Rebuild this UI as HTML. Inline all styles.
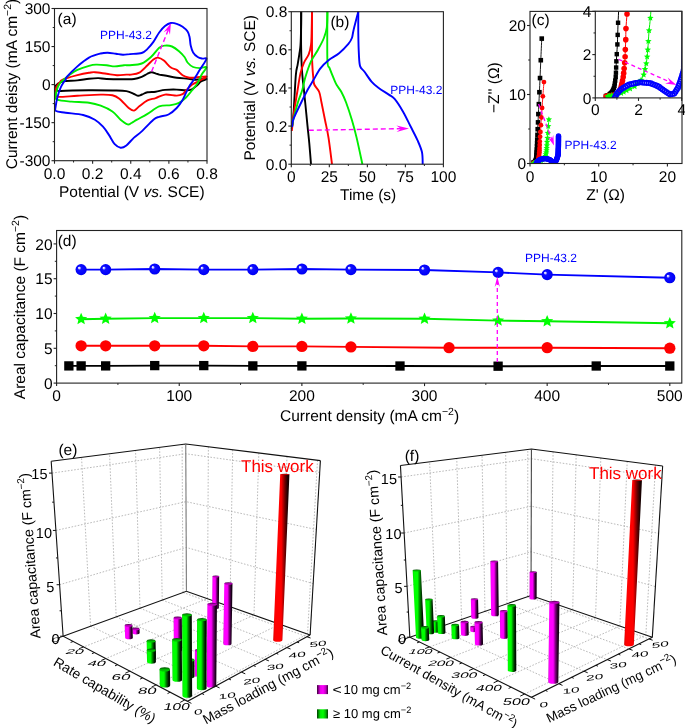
<!DOCTYPE html>
<html><head><meta charset="utf-8"><style>
html,body{margin:0;padding:0;background:#fff;}
svg{display:block;will-change:transform;filter:blur(0.3px);text-rendering:geometricPrecision;font-family:"Liberation Sans",sans-serif;}
</style></head><body>
<svg width="685" height="728" viewBox="0 0 685 728">
<rect width="685" height="728" fill="#fff"/>
<g fill="none" stroke-width="1.9" stroke-linejoin="round">
<path d="M55.3,86.3 C55.75,85.83 57.05,84.18 58,83.5 C58.95,82.82 59.72,82.62 61,82.2 C62.28,81.78 62.97,81.3 65.7,81 C68.43,80.7 73.52,80.78 77.4,80.4 C81.28,80.02 85.5,79.08 89,78.7 C92.5,78.32 95.47,78.05 98.4,78.1 C101.33,78.15 102.33,78.82 106.6,79 C110.87,79.18 119.43,79.2 124,79.2 C128.57,79.2 131.05,79.38 134,79 C136.95,78.62 139.53,77.73 141.7,76.9 C143.87,76.07 145.35,74.78 147,74 C148.65,73.22 150.1,72.27 151.6,72.2 C153.1,72.13 154.73,73.2 156,73.6 C157.27,74 157.7,74.28 159.2,74.6 C160.7,74.92 162.08,74.97 165,75.5 C167.92,76.03 172.8,77.27 176.7,77.8 C180.6,78.33 185.28,78.37 188.4,78.7 C191.52,79.03 192.38,79.75 195.4,79.8 C198.42,79.85 205.57,78.72 206.5,79 C207.43,79.28 202.47,80.55 201,81.5 C199.53,82.45 199.22,83.4 197.7,84.7 C196.18,86 193.85,88.37 191.9,89.3 C189.95,90.23 188.53,90.25 186,90.3 C183.47,90.35 180.2,89.67 176.7,89.6 C173.2,89.53 168.5,89.55 165,89.9 C161.5,90.25 158.62,91.3 155.7,91.7 C152.78,92.1 149.78,91.83 147.5,92.3 C145.22,92.77 143.55,93.92 142,94.5 C140.45,95.08 139.53,95.88 138.2,95.8 C136.87,95.72 135.97,94.78 134,94 C132.03,93.22 130,91.68 126.4,91.1 C122.8,90.52 118.63,90.63 112.4,90.5 C106.17,90.37 96.78,90.27 89,90.3 C81.22,90.33 70.75,90.57 65.7,90.7 C60.65,90.83 60.38,91.3 58.7,91.1 C57.02,90.9 56.17,90.3 55.6,89.5 C55.03,88.7 55.35,86.83 55.3,86.3" stroke="#000"/>
<path d="M59.8,82.3 C60.08,81.98 60.52,81.03 61.5,80.4 C62.48,79.77 63.05,79.37 65.7,78.5 C68.35,77.63 73.52,76.15 77.4,75.2 C81.28,74.25 86.08,73.3 89,72.8 C91.92,72.3 91.97,72.03 94.9,72.2 C97.83,72.37 102.92,73.3 106.6,73.8 C110.28,74.3 113.7,75.07 117,75.2 C120.3,75.33 124.07,74.7 126.4,74.6 C128.73,74.5 128.85,74.93 131,74.6 C133.15,74.27 136.55,74.17 139.3,72.6 C142.05,71.03 145.15,67.4 147.5,65.2 C149.85,63 151.65,60.67 153.4,59.4 C155.15,58.13 156.25,57.4 158,57.6 C159.75,57.8 161.75,58.93 163.9,60.6 C166.05,62.27 168.77,66.05 170.9,67.6 C173.03,69.15 174.75,68.63 176.7,69.9 C178.65,71.17 180.65,73.93 182.6,75.2 C184.55,76.47 186.27,77.12 188.4,77.5 C190.53,77.88 192.38,77.67 195.4,77.5 C198.42,77.33 205.73,76 206.5,76.5 C207.27,77 202.43,79.13 200,80.5 C197.57,81.87 194.23,83.03 191.9,84.7 C189.57,86.37 187.55,88.92 186,90.5 C184.45,92.08 184.15,93.35 182.6,94.2 C181.05,95.05 179.63,95.53 176.7,95.6 C173.77,95.67 168.5,94.18 165,94.6 C161.5,95.02 158.62,97.13 155.7,98.1 C152.78,99.07 150.23,99.03 147.5,100.4 C144.77,101.77 141.53,104.6 139.3,106.3 C137.07,108 135.87,110.32 134.1,110.6 C132.33,110.88 131.15,109.98 128.7,108 C126.25,106.02 122.12,100.83 119.4,98.7 C116.68,96.57 115.52,95.88 112.4,95.2 C109.28,94.52 106.53,94.5 100.7,94.6 C94.87,94.7 84.4,95.42 77.4,95.8 C70.4,96.18 62.3,97 58.7,96.9 C55.1,96.8 56.28,96.52 55.8,95.2 C55.32,93.88 55.52,90.7 55.8,89 C56.08,87.3 56.83,86.12 57.5,85 C58.17,83.88 59.42,82.75 59.8,82.3" stroke="#ff0000"/>
<path d="M63.3,80 C63.7,79.67 64.58,78.92 65.7,78 C66.82,77.08 68.05,75.85 70,74.5 C71.95,73.15 74.23,71.35 77.4,69.9 C80.57,68.45 85.9,66.68 89,65.8 C92.1,64.92 93.07,64.7 96,64.6 C98.93,64.5 103.48,64.9 106.6,65.2 C109.72,65.5 111.8,66.4 114.7,66.4 C117.6,66.4 121.45,65.4 124,65.2 C126.55,65 127.05,65.48 130,65.2 C132.95,64.92 138.2,64.87 141.7,63.5 C145.2,62.13 148.08,59.63 151,57 C153.92,54.37 156.87,49.6 159.2,47.7 C161.53,45.8 162.87,45.8 165,45.6 C167.13,45.4 169.67,45.57 172,46.5 C174.33,47.43 176.92,49.45 179,51.2 C181.08,52.95 183.08,55.12 184.5,57 C185.92,58.88 186.07,60.83 187.5,62.5 C188.93,64.17 191.02,66.07 193.1,67 C195.18,67.93 197.77,68.07 200,68.1 C202.23,68.13 206.17,66.22 206.5,67.2 C206.83,68.18 203.47,71.38 202,74 C200.53,76.62 199.38,80.15 197.7,82.9 C196.02,85.65 193.85,88.07 191.9,90.5 C189.95,92.93 188.15,95.45 186,97.5 C183.85,99.55 181.52,101.53 179,102.8 C176.48,104.07 174.2,104.52 170.9,105.1 C167.6,105.68 163.1,104.83 159.2,106.3 C155.3,107.77 151.2,111.67 147.5,113.9 C143.8,116.13 139.67,118.18 137,119.7 C134.33,121.22 133.07,122.22 131.5,123 C129.93,123.78 129.42,124.95 127.6,124.4 C125.78,123.85 123.13,121.85 120.6,119.7 C118.07,117.55 115.72,113.83 112.4,111.5 C109.08,109.17 104.6,107.15 100.7,105.7 C96.8,104.25 93.87,103.48 89,102.8 C84.13,102.12 76.75,102.08 71.5,101.6 C66.25,101.12 60.13,100.77 57.5,99.9 C54.87,99.03 55.7,98.38 55.7,96.4 C55.7,94.42 56.7,90.32 57.5,88 C58.3,85.68 59.53,83.83 60.5,82.5 C61.47,81.17 62.83,80.42 63.3,80" stroke="#00ee00"/>
<path d="M65.7,80 C65.88,79.48 64.85,79.17 66.8,76.9 C68.75,74.63 73.7,69.62 77.4,66.4 C81.1,63.18 85.12,59.75 89,57.6 C92.88,55.45 97.58,54.32 100.7,53.5 C103.82,52.68 105.17,52.65 107.7,52.7 C110.23,52.75 113.37,53.47 115.9,53.8 C118.43,54.13 120.55,54.65 122.9,54.7 C125.25,54.75 126.87,54.38 130,54.1 C133.13,53.82 138.78,53.87 141.7,53 C144.62,52.13 145.55,50.75 147.5,48.9 C149.45,47.05 151.45,44.63 153.4,41.9 C155.35,39.17 157.27,35.13 159.2,32.5 C161.13,29.87 163.05,27.68 165,26.1 C166.95,24.52 168.95,23.38 170.9,23 C172.85,22.62 174.75,23.18 176.7,23.8 C178.65,24.42 180.78,25.42 182.6,26.7 C184.42,27.98 186.43,29.75 187.6,31.5 C188.77,33.25 189.08,34.87 189.6,37.2 C190.12,39.53 190.12,42.97 190.7,45.5 C191.28,48.03 191.93,50.48 193.1,52.4 C194.27,54.32 196.15,55.97 197.7,57 C199.25,58.03 200.93,58.28 202.4,58.6 C203.87,58.92 206.9,57.08 206.5,58.9 C206.1,60.72 202.15,65.98 200,69.5 C197.85,73.02 195.33,77.28 193.6,80 C191.87,82.72 190.87,83.67 189.6,85.8 C188.33,87.93 187.17,90.45 186,92.8 C184.83,95.15 184.15,97.37 182.6,99.9 C181.05,102.43 179.05,105.57 176.7,108 C174.35,110.43 171.42,113.03 168.5,114.5 C165.58,115.97 161.72,115.93 159.2,116.8 C156.68,117.67 156.32,117.27 153.4,119.7 C150.48,122.13 144.93,128.42 141.7,131.4 C138.47,134.38 136.55,135.27 134,137.6 C131.45,139.93 128.63,143.72 126.4,145.4 C124.17,147.08 122.55,147.9 120.6,147.7 C118.65,147.5 116.65,146.33 114.7,144.2 C112.75,142.07 110.85,137.82 108.9,134.9 C106.95,131.98 105.33,129.23 103,126.7 C100.67,124.17 98.2,121.65 94.9,119.7 C91.6,117.75 88.07,116.17 83.2,115 C78.33,113.83 70.23,113.37 65.7,112.7 C61.17,112.03 57.68,111.95 56,111 C54.32,110.05 55.35,109.33 55.6,107 C55.85,104.67 56.68,100.17 57.5,97 C58.32,93.83 59.5,90.42 60.5,88 C61.5,85.58 62.63,83.83 63.5,82.5 C64.37,81.17 65.33,80.42 65.7,80" stroke="#0000ff"/>
</g>
<line x1="151.6" y1="71.6" x2="168.46" y2="29.33" stroke="#ff00ff" stroke-width="1.4" stroke-dasharray="5,3"/>
<path d="M170.9,23.2 L169.98,34.68 L168.25,29.84 L163.67,32.16 Z" fill="#ff00ff"/>
<rect x="54.5" y="8.5" width="152.5" height="152.2" fill="none" stroke="#222" stroke-width="1.1"/>
<line x1="51.5" y1="8.5" x2="54.5" y2="8.5" stroke="#222" stroke-width="1.1" />
<text x="50.5" y="14.1" font-size="15.5" text-anchor="end" fill="#000" >300</text>
<line x1="51.5" y1="46.55" x2="54.5" y2="46.55" stroke="#222" stroke-width="1.1" />
<text x="50.5" y="52.15" font-size="15.5" text-anchor="end" fill="#000" >150</text>
<line x1="51.5" y1="84.6" x2="54.5" y2="84.6" stroke="#222" stroke-width="1.1" />
<text x="50.5" y="90.2" font-size="15.5" text-anchor="end" fill="#000" >0</text>
<line x1="51.5" y1="122.65" x2="54.5" y2="122.65" stroke="#222" stroke-width="1.1" />
<text x="50.5" y="128.25" font-size="15.5" text-anchor="end" fill="#000" >-150</text>
<line x1="51.5" y1="160.7" x2="54.5" y2="160.7" stroke="#222" stroke-width="1.1" />
<text x="50.5" y="166.3" font-size="15.5" text-anchor="end" fill="#000" >-300</text>
<line x1="52.7" y1="27.52" x2="54.5" y2="27.52" stroke="#222" stroke-width="1" />
<line x1="52.7" y1="65.57" x2="54.5" y2="65.57" stroke="#222" stroke-width="1" />
<line x1="52.7" y1="103.62" x2="54.5" y2="103.62" stroke="#222" stroke-width="1" />
<line x1="52.7" y1="141.68" x2="54.5" y2="141.68" stroke="#222" stroke-width="1" />
<line x1="54.5" y1="160.7" x2="54.5" y2="163.7" stroke="#222" stroke-width="1.1" />
<text x="54.5" y="179" font-size="15.5" text-anchor="middle" fill="#000" >0.0</text>
<line x1="92.62" y1="160.7" x2="92.62" y2="163.7" stroke="#222" stroke-width="1.1" />
<text x="92.62" y="179" font-size="15.5" text-anchor="middle" fill="#000" >0.2</text>
<line x1="130.75" y1="160.7" x2="130.75" y2="163.7" stroke="#222" stroke-width="1.1" />
<text x="130.75" y="179" font-size="15.5" text-anchor="middle" fill="#000" >0.4</text>
<line x1="168.88" y1="160.7" x2="168.88" y2="163.7" stroke="#222" stroke-width="1.1" />
<text x="168.88" y="179" font-size="15.5" text-anchor="middle" fill="#000" >0.6</text>
<line x1="207" y1="160.7" x2="207" y2="163.7" stroke="#222" stroke-width="1.1" />
<text x="207" y="179" font-size="15.5" text-anchor="middle" fill="#000" >0.8</text>
<line x1="73.56" y1="160.7" x2="73.56" y2="162.5" stroke="#222" stroke-width="1" />
<line x1="111.69" y1="160.7" x2="111.69" y2="162.5" stroke="#222" stroke-width="1" />
<line x1="149.81" y1="160.7" x2="149.81" y2="162.5" stroke="#222" stroke-width="1" />
<line x1="187.94" y1="160.7" x2="187.94" y2="162.5" stroke="#222" stroke-width="1" />
<text x="59" y="197.1" font-size="15.5" text-anchor="start" fill="#000" >Potential (V <tspan font-style="italic">vs.</tspan> SCE)</text>
<text transform="translate(16.6,84) rotate(-90)" font-size="15.5" text-anchor="middle">Current deisty (mA cm<tspan font-size="10.5" dy="-6">−2</tspan><tspan dy="6">)</tspan></text>
<text x="57.6" y="23.7" font-size="15.5" text-anchor="start" fill="#000" >(a)</text>
<text x="100" y="38.6" font-size="12.0" text-anchor="start" fill="#0000ff" >PPH-43.2</text>
<g fill="none" stroke-width="1.9" stroke-linejoin="round">
<path d="M291.8,129 C292.08,126.5 292.83,122.93 293.5,114 C294.17,105.07 295.12,83.58 295.8,75.4 C296.48,67.22 297.02,68.4 297.6,64.9 C298.18,61.4 298.82,57.72 299.3,54.4 C299.78,51.08 300.2,49.48 300.5,45 C300.8,40.52 300.98,33.05 301.1,27.5 C301.22,21.95 301.18,14.33 301.2,11.7" stroke="#000"/>
<path d="M301.2,11.7 C301.18,17.25 301.02,35.93 301.1,45 C301.18,54.07 301.42,60.27 301.7,66.1 C301.98,71.93 302.52,76.85 302.8,80 C303.08,83.15 303,81.25 303.4,85 C303.8,88.75 304.52,95.68 305.2,102.5 C305.88,109.32 306.82,119.08 307.5,125.9 C308.18,132.72 308.72,137.02 309.3,143.4 C309.88,149.78 310.72,160.73 311,164.2" stroke="#000"/>
<path d="M291.8,131 C292.17,127.83 293.03,118.83 294,112 C294.97,105.17 296.52,96.48 297.6,90 C298.68,83.52 299.43,77.67 300.5,73.1 C301.57,68.53 302.63,65.72 304,62.6 C305.37,59.48 307.53,57.33 308.7,54.4 C309.87,51.47 310.52,48.5 311,45 C311.48,41.5 311.43,38.95 311.6,33.4 C311.77,27.85 311.93,15.32 312,11.7" stroke="#ff0000"/>
<path d="M312,11.7 C312,17.25 311.97,36.52 312,45 C312.03,53.48 311.97,56.95 312.2,62.6 C312.43,68.25 313.02,75.17 313.4,78.9 C313.78,82.63 313.53,82.82 314.5,85 C315.47,87.18 318.03,89.08 319.2,92 C320.37,94.92 320.53,97.83 321.5,102.5 C322.47,107.17 323.83,114.15 325,120 C326.17,125.85 327.33,130.23 328.5,137.6 C329.67,144.97 331.42,159.77 332,164.2" stroke="#ff0000"/>
<path d="M292,127 C292.25,125.65 292.5,123.07 293.5,118.9 C294.5,114.73 296.53,106.82 298,102 C299.47,97.18 301.1,94.05 302.3,90 C303.5,85.95 303.75,82.47 305.2,77.7 C306.65,72.93 308.87,66.07 311,61.4 C313.13,56.73 315.85,53.6 318,49.7 C320.15,45.8 322.43,41.7 323.9,38 C325.37,34.3 326.22,31.88 326.8,27.5 C327.38,23.12 327.3,14.33 327.4,11.7" stroke="#00ee00"/>
<path d="M327.4,11.7 C327.4,19.78 327.02,50.75 327.4,60.2 C327.78,69.65 328.53,65.08 329.7,68.4 C330.87,71.72 333.23,77.33 334.4,80.1 C335.57,82.87 335.53,83.02 336.7,85 C337.87,86.98 339.83,89.08 341.4,92 C342.97,94.92 344.35,97.83 346.1,102.5 C347.85,107.17 350.15,114.15 351.9,120 C353.65,125.85 354.85,130.23 356.6,137.6 C358.35,144.97 361.43,159.77 362.4,164.2" stroke="#00ee00"/>
<path d="M292,127 C292.25,125.65 292.17,122.57 293.5,118.9 C294.83,115.23 297.67,109.82 300,105 C302.33,100.18 305.27,94.15 307.5,90 C309.73,85.85 311.25,83.7 313.4,80.1 C315.55,76.5 317.88,71.72 320.4,68.4 C322.92,65.08 325.38,62.73 328.5,60.2 C331.62,57.67 335.78,55.92 339.1,53.2 C342.42,50.48 346.27,46.43 348.4,43.9 C350.53,41.37 351.03,40.33 351.9,38 C352.77,35.67 352.53,34.28 353.6,29.9 C354.67,25.52 357.52,14.73 358.3,11.7" stroke="#0000ff"/>
<path d="M358.3,11.7 C358.3,15.32 358.2,26.28 358.3,33.4 C358.4,40.52 358.6,48.95 358.9,54.4 C359.2,59.85 359.2,63.25 360.1,66.1 C361,68.95 362.4,68.92 364.3,71.5 C366.2,74.08 369.1,78.83 371.5,81.6 C373.9,84.37 375.82,85.93 378.7,88.1 C381.58,90.27 386.15,92.8 388.8,94.6 C391.45,96.4 392.2,96.02 394.6,98.9 C397,101.78 400.55,107.33 403.2,111.9 C405.85,116.47 408.08,121.5 410.5,126.3 C412.92,131.1 415.78,136.37 417.7,140.7 C419.62,145.03 421.17,148.38 422,152.3 C422.83,156.22 422.58,162.22 422.7,164.2" stroke="#0000ff"/>
</g>
<line x1="308.8" y1="130.3" x2="401.5" y2="128.63" stroke="#ff00ff" stroke-width="1.4" stroke-dasharray="5,3"/>
<path d="M409,128.5 L396.56,131.92 L400.88,128.65 L396.44,125.53 Z" fill="#ff00ff"/>
<rect x="291.3" y="11.7" width="152.1" height="152.5" fill="none" stroke="#222" stroke-width="1.1"/>
<line x1="288.3" y1="164.2" x2="291.3" y2="164.2" stroke="#222" stroke-width="1.1" />
<text x="287.3" y="169.8" font-size="15.5" text-anchor="end" fill="#000" >0.0</text>
<line x1="288.3" y1="126.07" x2="291.3" y2="126.07" stroke="#222" stroke-width="1.1" />
<text x="287.3" y="131.67" font-size="15.5" text-anchor="end" fill="#000" >0.2</text>
<line x1="288.3" y1="87.95" x2="291.3" y2="87.95" stroke="#222" stroke-width="1.1" />
<text x="287.3" y="93.55" font-size="15.5" text-anchor="end" fill="#000" >0.4</text>
<line x1="288.3" y1="49.82" x2="291.3" y2="49.82" stroke="#222" stroke-width="1.1" />
<text x="287.3" y="55.42" font-size="15.5" text-anchor="end" fill="#000" >0.6</text>
<line x1="288.3" y1="11.7" x2="291.3" y2="11.7" stroke="#222" stroke-width="1.1" />
<text x="287.3" y="17.3" font-size="15.5" text-anchor="end" fill="#000" >0.8</text>
<line x1="289.5" y1="145.14" x2="291.3" y2="145.14" stroke="#222" stroke-width="1" />
<line x1="289.5" y1="107.01" x2="291.3" y2="107.01" stroke="#222" stroke-width="1" />
<line x1="289.5" y1="68.89" x2="291.3" y2="68.89" stroke="#222" stroke-width="1" />
<line x1="289.5" y1="30.76" x2="291.3" y2="30.76" stroke="#222" stroke-width="1" />
<line x1="291.3" y1="164.2" x2="291.3" y2="167.2" stroke="#222" stroke-width="1.1" />
<text x="291.3" y="182.3" font-size="15.5" text-anchor="middle" fill="#000" >0</text>
<line x1="329.32" y1="164.2" x2="329.32" y2="167.2" stroke="#222" stroke-width="1.1" />
<text x="329.32" y="182.3" font-size="15.5" text-anchor="middle" fill="#000" >25</text>
<line x1="367.35" y1="164.2" x2="367.35" y2="167.2" stroke="#222" stroke-width="1.1" />
<text x="367.35" y="182.3" font-size="15.5" text-anchor="middle" fill="#000" >50</text>
<line x1="405.38" y1="164.2" x2="405.38" y2="167.2" stroke="#222" stroke-width="1.1" />
<text x="405.38" y="182.3" font-size="15.5" text-anchor="middle" fill="#000" >75</text>
<line x1="443.4" y1="164.2" x2="443.4" y2="167.2" stroke="#222" stroke-width="1.1" />
<text x="443.4" y="182.3" font-size="15.5" text-anchor="middle" fill="#000" >100</text>
<line x1="310.31" y1="164.2" x2="310.31" y2="166" stroke="#222" stroke-width="1" />
<line x1="348.34" y1="164.2" x2="348.34" y2="166" stroke="#222" stroke-width="1" />
<line x1="386.36" y1="164.2" x2="386.36" y2="166" stroke="#222" stroke-width="1" />
<line x1="424.39" y1="164.2" x2="424.39" y2="166" stroke="#222" stroke-width="1" />
<text x="340" y="199.6" font-size="15.5" text-anchor="start" fill="#000" >Time (s)</text>
<text transform="translate(255.3,87.8) rotate(-90)" font-size="15.5" text-anchor="middle">Potential (V <tspan font-style="italic">vs.</tspan> SCE)</text>
<text x="330.4" y="27.3" font-size="15.5" text-anchor="start" fill="#000" >(b)</text>
<text x="390.3" y="93.9" font-size="12.0" text-anchor="start" fill="#0000ff" >PPH-43.2</text>
<defs><path id="star" d="M0,-5 L1.35,-1.86 L4.76,-1.55 L2.19,0.71 L2.94,4.05 L0,2.3 L-2.94,4.05 L-2.19,0.71 L-4.76,-1.55 L-1.35,-1.86 Z"/><clipPath id="clipc"><rect x="530" y="11.4" width="152" height="152.1"/></clipPath><clipPath id="clipi"><rect x="595.3" y="11.3" width="86.4" height="86.6"/></clipPath><radialGradient id="sph" cx="0.5" cy="0.5" r="0.55" fx="0.3" fy="0.32" fr="0"><stop offset="0" stop-color="#ffffff"/><stop offset="0.13" stop-color="#d0d0ff"/><stop offset="0.3" stop-color="#1010ff"/><stop offset="0.85" stop-color="#0000f8"/><stop offset="1" stop-color="#0000b8"/></radialGradient></defs>
<g clip-path="url(#clipc)">
<path d="M541.75,38.61 C541.59,42.21 541.07,53.63 540.79,60.21 C540.5,66.78 540.26,72.74 540.03,78.08 C539.8,83.41 539.61,87.88 539.41,92.22 C539.22,96.57 539.03,100.51 538.86,104.16 C538.69,107.81 538.52,111.06 538.38,114.1 C538.24,117.13 538.15,119.86 538.04,122.38 C537.92,124.89 537.79,127.13 537.69,129.21 C537.6,131.29 537.54,133.14 537.46,134.87 C537.39,136.59 537.3,138.13 537.24,139.56 C537.18,140.98 537.15,142.27 537.12,143.42 C537.08,144.57 537.07,145.43 537.02,146.46 C536.97,147.48 536.88,148.67 536.83,149.56 C536.77,150.46 536.73,151.13 536.7,151.84 C536.66,152.55 536.65,153.22 536.63,153.82 C536.6,154.43 536.59,154.96 536.57,155.47 C536.55,155.97 536.53,156.42 536.49,156.83 C536.46,157.25 536.38,157.62 536.34,157.97 C536.29,158.31 536.24,158.62 536.2,158.91 C536.16,159.19 536.14,159.45 536.1,159.69 C536.05,159.93 535.99,160.14 535.92,160.34 C535.85,160.53 535.75,160.71 535.67,160.87 C535.6,161.04 535.54,161.18 535.47,161.32 C535.4,161.46 535.33,161.58 535.24,161.69 C535.15,161.8 535.02,161.9 534.93,162 C534.84,162.09 534.75,162.18 534.68,162.25 C534.6,162.33 534.57,162.4 534.46,162.47 C534.36,162.53 534.16,162.59 534.03,162.64 C533.89,162.69 533.77,162.74 533.66,162.79 C533.55,162.83 533.41,162.89 533.36,162.91" fill="none" stroke="#000" stroke-width="0.9"/>
<g fill="#000"><rect x="539.45" y="36.31" width="4.6" height="4.6"/><rect x="538.49" y="57.91" width="4.6" height="4.6"/><rect x="537.73" y="75.78" width="4.6" height="4.6"/><rect x="537.11" y="89.92" width="4.6" height="4.6"/><rect x="536.56" y="101.86" width="4.6" height="4.6"/><rect x="536.08" y="111.8" width="4.6" height="4.6"/><rect x="535.74" y="120.08" width="4.6" height="4.6"/><rect x="535.39" y="126.91" width="4.6" height="4.6"/><rect x="535.16" y="132.56" width="4.6" height="4.6"/><rect x="534.94" y="137.26" width="4.6" height="4.6"/><rect x="534.82" y="141.12" width="4.6" height="4.6"/><rect x="534.72" y="144.16" width="4.6" height="4.6"/><rect x="534.53" y="147.26" width="4.6" height="4.6"/><rect x="534.4" y="149.54" width="4.6" height="4.6"/><rect x="534.33" y="151.52" width="4.6" height="4.6"/><rect x="534.27" y="153.17" width="4.6" height="4.6"/><rect x="534.19" y="154.53" width="4.6" height="4.6"/><rect x="534.04" y="155.67" width="4.6" height="4.6"/><rect x="533.9" y="156.61" width="4.6" height="4.6"/><rect x="533.8" y="157.39" width="4.6" height="4.6"/><rect x="533.62" y="158.04" width="4.6" height="4.6"/><rect x="533.37" y="158.57" width="4.6" height="4.6"/><rect x="533.17" y="159.02" width="4.6" height="4.6"/><rect x="532.94" y="159.39" width="4.6" height="4.6"/><rect x="532.63" y="159.7" width="4.6" height="4.6"/><rect x="532.38" y="159.95" width="4.6" height="4.6"/><rect x="532.16" y="160.17" width="4.6" height="4.6"/><rect x="531.73" y="160.34" width="4.6" height="4.6"/><rect x="531.36" y="160.49" width="4.6" height="4.6"/><rect x="531.06" y="160.61" width="4.6" height="4.6"/></g>
<path d="M543.95,82.08 C543.76,84.45 543.16,91.99 542.85,96.29 C542.54,100.59 542.33,104.36 542.09,107.89 C541.85,111.42 541.6,114.59 541.4,117.48 C541.21,120.36 541.08,122.8 540.92,125.2 C540.76,127.61 540.58,129.97 540.44,131.9 C540.3,133.82 540.2,135.18 540.09,136.76 C539.97,138.35 539.82,140.06 539.76,141.42 C539.69,142.78 539.72,143.82 539.69,144.94 C539.65,146.05 539.58,147.2 539.55,148.11 C539.51,149.02 539.51,149.69 539.48,150.39 C539.45,151.09 539.39,151.7 539.34,152.32 C539.29,152.94 539.22,153.56 539.17,154.11 C539.12,154.66 539.08,155.15 539.03,155.61 C538.98,156.07 538.94,156.49 538.88,156.87 C538.82,157.26 538.73,157.61 538.67,157.93 C538.6,158.26 538.54,158.55 538.49,158.83 C538.43,159.1 538.39,159.34 538.34,159.57 C538.29,159.8 538.25,160.01 538.19,160.2 C538.13,160.39 538.04,160.57 537.98,160.73 C537.92,160.89 537.86,161.04 537.81,161.17 C537.76,161.31 537.76,161.43 537.67,161.54 C537.58,161.66 537.41,161.76 537.29,161.86 C537.18,161.95 537.06,162.04 536.96,162.12 C536.86,162.2 536.81,162.27 536.68,162.34 C536.55,162.41 536.41,162.47 536.18,162.53 C535.95,162.58 535.58,162.63 535.31,162.68 C535.04,162.73 534.8,162.77 534.58,162.81 C534.35,162.85 534.15,162.89 533.96,162.92 C533.77,162.96 533.53,163 533.44,163.02" fill="none" stroke="#ff0000" stroke-width="0.9"/>
<g fill="#ff0000"><circle cx="543.95" cy="82.08" r="2.4"/><circle cx="542.85" cy="96.29" r="2.4"/><circle cx="542.09" cy="107.89" r="2.4"/><circle cx="541.4" cy="117.48" r="2.4"/><circle cx="540.92" cy="125.2" r="2.4"/><circle cx="540.44" cy="131.9" r="2.4"/><circle cx="540.09" cy="136.76" r="2.4"/><circle cx="539.76" cy="141.42" r="2.4"/><circle cx="539.69" cy="144.94" r="2.4"/><circle cx="539.55" cy="148.11" r="2.4"/><circle cx="539.48" cy="150.39" r="2.4"/><circle cx="539.34" cy="152.32" r="2.4"/><circle cx="539.17" cy="154.11" r="2.4"/><circle cx="539.03" cy="155.61" r="2.4"/><circle cx="538.88" cy="156.87" r="2.4"/><circle cx="538.67" cy="157.93" r="2.4"/><circle cx="538.49" cy="158.83" r="2.4"/><circle cx="538.34" cy="159.57" r="2.4"/><circle cx="538.19" cy="160.2" r="2.4"/><circle cx="537.98" cy="160.73" r="2.4"/><circle cx="537.81" cy="161.17" r="2.4"/><circle cx="537.67" cy="161.54" r="2.4"/><circle cx="537.29" cy="161.86" r="2.4"/><circle cx="536.96" cy="162.12" r="2.4"/><circle cx="536.68" cy="162.34" r="2.4"/><circle cx="536.18" cy="162.53" r="2.4"/><circle cx="535.31" cy="162.68" r="2.4"/><circle cx="534.58" cy="162.81" r="2.4"/><circle cx="533.96" cy="162.92" r="2.4"/><circle cx="533.44" cy="163.02" r="2.4"/></g>
<path d="M548.88,119.48 C548.78,120.61 548.44,124 548.27,126.24 C548.1,128.48 547.99,130.97 547.86,132.93 C547.74,134.9 547.64,136.52 547.52,138.04 C547.39,139.56 547.21,140.81 547.11,142.04 C547,143.27 546.95,144.4 546.88,145.42 C546.81,146.45 546.76,147.35 546.69,148.18 C546.63,149.01 546.57,149.67 546.49,150.39 C546.41,151.11 546.33,151.86 546.21,152.53 C546.1,153.2 545.94,153.79 545.8,154.39 C545.66,154.99 545.59,155.55 545.39,156.12 C545.18,156.68 544.89,157.31 544.56,157.77 C544.24,158.24 543.77,158.57 543.42,158.92 C543.08,159.26 542.9,159.56 542.51,159.83 C542.12,160.11 541.51,160.35 541.08,160.57 C540.65,160.79 540.28,160.98 539.93,161.15 C539.59,161.33 539.3,161.48 539.02,161.62 C538.73,161.76 538.58,161.89 538.24,162 C537.91,162.11 537.38,162.21 537.01,162.3 C536.64,162.39 536.32,162.47 536.02,162.54 C535.72,162.61 535.47,162.67 535.23,162.73 C534.99,162.79 534.79,162.84 534.6,162.89 C534.41,162.93 534.2,162.97 534.09,163.01 C533.98,163.04 533.96,163.09 533.94,163.11" fill="none" stroke="#00ee00" stroke-width="0.9"/>
<g fill="#00ff00"><use href="#star" transform="translate(548.88,119.48) scale(0.66)"/><use href="#star" transform="translate(548.27,126.24) scale(0.66)"/><use href="#star" transform="translate(547.86,132.93) scale(0.66)"/><use href="#star" transform="translate(547.52,138.04) scale(0.66)"/><use href="#star" transform="translate(547.11,142.04) scale(0.66)"/><use href="#star" transform="translate(546.88,145.42) scale(0.66)"/><use href="#star" transform="translate(546.69,148.18) scale(0.66)"/><use href="#star" transform="translate(546.49,150.39) scale(0.66)"/><use href="#star" transform="translate(546.21,152.53) scale(0.66)"/><use href="#star" transform="translate(545.8,154.39) scale(0.66)"/><use href="#star" transform="translate(545.39,156.12) scale(0.66)"/><use href="#star" transform="translate(544.56,157.77) scale(0.66)"/><use href="#star" transform="translate(543.42,158.92) scale(0.66)"/><use href="#star" transform="translate(542.51,159.83) scale(0.66)"/><use href="#star" transform="translate(541.08,160.57) scale(0.66)"/><use href="#star" transform="translate(539.93,161.15) scale(0.66)"/><use href="#star" transform="translate(539.02,161.62) scale(0.66)"/><use href="#star" transform="translate(538.24,162) scale(0.66)"/><use href="#star" transform="translate(537.01,162.3) scale(0.66)"/><use href="#star" transform="translate(536.02,162.54) scale(0.66)"/><use href="#star" transform="translate(535.23,162.73) scale(0.66)"/><use href="#star" transform="translate(534.6,162.89) scale(0.66)"/><use href="#star" transform="translate(534.09,163.01) scale(0.66)"/><use href="#star" transform="translate(533.94,163.11) scale(0.66)"/></g>
<g fill="none" stroke="#0000ff" stroke-width="1.4"><circle cx="536.18" cy="163.43" r="2"/><circle cx="536.51" cy="162.81" r="2"/><circle cx="536.84" cy="162.18" r="2"/><circle cx="537.32" cy="161.67" r="2"/><circle cx="537.82" cy="161.17" r="2"/><circle cx="538.32" cy="160.67" r="2"/><circle cx="538.93" cy="160.31" r="2"/><circle cx="539.53" cy="159.96" r="2"/><circle cx="540.14" cy="159.6" r="2"/><circle cx="540.75" cy="159.24" r="2"/><circle cx="541.44" cy="159.09" r="2"/><circle cx="542.13" cy="158.95" r="2"/><circle cx="542.82" cy="158.81" r="2"/><circle cx="543.51" cy="158.66" r="2"/><circle cx="544.2" cy="158.54" r="2"/><circle cx="544.9" cy="158.59" r="2"/><circle cx="545.6" cy="158.65" r="2"/><circle cx="546.3" cy="158.71" r="2"/><circle cx="547.01" cy="158.77" r="2"/><circle cx="547.69" cy="158.88" r="2"/><circle cx="548.35" cy="159.15" r="2"/><circle cx="549" cy="159.41" r="2"/><circle cx="549.65" cy="159.68" r="2"/><circle cx="550.27" cy="160" r="2"/><circle cx="550.84" cy="160.42" r="2"/><circle cx="551.41" cy="160.84" r="2"/><circle cx="551.98" cy="161.25" r="2"/><circle cx="552.57" cy="161.64" r="2"/><circle cx="553.16" cy="162.02" r="2"/><circle cx="553.76" cy="162.39" r="2"/><circle cx="554.46" cy="162.29" r="2"/><circle cx="555.12" cy="162.12" r="2"/><circle cx="555.5" cy="161.53" r="2"/><circle cx="555.88" cy="160.93" r="2"/><circle cx="556.26" cy="160.34" r="2"/><circle cx="556.52" cy="159.68" r="2"/><circle cx="556.75" cy="159.02" r="2"/><circle cx="556.99" cy="158.35" r="2"/><circle cx="557.23" cy="157.68" r="2"/><circle cx="557.44" cy="157.01" r="2"/><circle cx="557.64" cy="156.33" r="2"/><circle cx="557.84" cy="155.65" r="2"/><circle cx="558.04" cy="154.98" r="2"/><circle cx="558.18" cy="154.29" r="2"/><circle cx="558.2" cy="153.58" r="2"/><circle cx="558.22" cy="152.87" r="2"/><circle cx="558.25" cy="152.17" r="2"/><circle cx="558.27" cy="151.46" r="2"/><circle cx="558.29" cy="150.75" r="2"/><circle cx="558.32" cy="150.04" r="2"/><circle cx="558.34" cy="149.34" r="2"/><circle cx="558.36" cy="148.63" r="2"/><circle cx="558.39" cy="147.92" r="2"/><circle cx="558.41" cy="147.22" r="2"/><circle cx="558.43" cy="146.51" r="2"/><circle cx="558.44" cy="145.8" r="2"/><circle cx="558.45" cy="145.1" r="2"/><circle cx="558.45" cy="144.39" r="2"/><circle cx="558.46" cy="143.68" r="2"/><circle cx="558.46" cy="142.97" r="2"/><circle cx="558.47" cy="142.27" r="2"/><circle cx="558.47" cy="141.56" r="2"/><circle cx="558.48" cy="140.85" r="2"/><circle cx="558.48" cy="140.14" r="2"/><circle cx="558.49" cy="139.44" r="2"/><circle cx="558.49" cy="138.73" r="2"/><circle cx="558.5" cy="138.02" r="2"/><circle cx="558.5" cy="137.31" r="2"/><circle cx="558.51" cy="136.61" r="2"/><circle cx="558.51" cy="135.9" r="2"/></g>
</g>
<line x1="538.6" y1="104.1" x2="551.91" y2="139.88" stroke="#ff00ff" stroke-width="1.3" stroke-dasharray="4,3"/>
<path d="M554,145.5 L547.7,137.17 L551.73,139.41 L553.33,135.08 Z" fill="#ff00ff"/>
<rect x="530" y="11.4" width="152" height="152.1" fill="none" stroke="#222" stroke-width="1.1"/>
<rect x="595.3" y="11.3" width="86.4" height="86.6" fill="#fff" stroke="none"/>
<g clip-path="url(#clipi)">
<path d="M632.24,-293.97 C631.73,-282.67 630.11,-246.84 629.21,-226.2 C628.31,-205.56 627.56,-186.87 626.84,-170.13 C626.12,-153.38 625.5,-139.38 624.89,-125.74 C624.28,-112.11 623.7,-99.73 623.16,-88.29 C622.62,-76.85 622.08,-66.64 621.65,-57.11 C621.22,-47.59 620.93,-39.04 620.57,-31.13 C620.21,-23.23 619.79,-16.23 619.49,-9.7 C619.19,-3.17 619,2.64 618.76,8.05 C618.52,13.46 618.25,18.3 618.07,22.77 C617.89,27.25 617.79,31.29 617.68,34.9 C617.56,38.51 617.53,41.21 617.38,44.42 C617.22,47.64 616.94,51.35 616.77,54.17 C616.6,56.98 616.47,59.08 616.36,61.31 C616.25,63.54 616.2,65.63 616.14,67.53 C616.07,69.43 616.02,71.12 615.95,72.69 C615.88,74.27 615.84,75.67 615.72,76.98 C615.6,78.29 615.37,79.45 615.22,80.54 C615.07,81.62 614.93,82.59 614.81,83.49 C614.68,84.39 614.62,85.19 614.47,85.94 C614.32,86.69 614.12,87.35 613.9,87.97 C613.68,88.59 613.37,89.14 613.14,89.66 C612.9,90.17 612.73,90.63 612.5,91.06 C612.27,91.49 612.05,91.87 611.76,92.22 C611.48,92.58 611.09,92.89 610.8,93.19 C610.51,93.48 610.25,93.74 610,93.99 C609.76,94.23 609.68,94.45 609.34,94.65 C609,94.86 608.38,95.04 607.96,95.21 C607.54,95.37 607.17,95.52 606.82,95.66 C606.47,95.8 606.03,95.98 605.87,96.04" fill="none" stroke="#000" stroke-width="1.0"/>
<g fill="#000"><rect x="630.04" y="-296.17" width="4.4" height="4.4"/><rect x="627.01" y="-228.4" width="4.4" height="4.4"/><rect x="624.64" y="-172.33" width="4.4" height="4.4"/><rect x="622.69" y="-127.94" width="4.4" height="4.4"/><rect x="620.96" y="-90.49" width="4.4" height="4.4"/><rect x="619.45" y="-59.31" width="4.4" height="4.4"/><rect x="618.37" y="-33.33" width="4.4" height="4.4"/><rect x="617.29" y="-11.9" width="4.4" height="4.4"/><rect x="616.56" y="5.85" width="4.4" height="4.4"/><rect x="615.87" y="20.57" width="4.4" height="4.4"/><rect x="615.48" y="32.7" width="4.4" height="4.4"/><rect x="615.18" y="42.22" width="4.4" height="4.4"/><rect x="614.57" y="51.97" width="4.4" height="4.4"/><rect x="614.16" y="59.11" width="4.4" height="4.4"/><rect x="613.94" y="65.33" width="4.4" height="4.4"/><rect x="613.75" y="70.49" width="4.4" height="4.4"/><rect x="613.52" y="74.78" width="4.4" height="4.4"/><rect x="613.02" y="78.34" width="4.4" height="4.4"/><rect x="612.61" y="81.29" width="4.4" height="4.4"/><rect x="612.27" y="83.74" width="4.4" height="4.4"/><rect x="611.7" y="85.77" width="4.4" height="4.4"/><rect x="610.94" y="87.46" width="4.4" height="4.4"/><rect x="610.3" y="88.86" width="4.4" height="4.4"/><rect x="609.56" y="90.02" width="4.4" height="4.4"/><rect x="608.6" y="90.99" width="4.4" height="4.4"/><rect x="607.8" y="91.79" width="4.4" height="4.4"/><rect x="607.14" y="92.45" width="4.4" height="4.4"/><rect x="605.76" y="93.01" width="4.4" height="4.4"/><rect x="604.62" y="93.46" width="4.4" height="4.4"/><rect x="603.67" y="93.84" width="4.4" height="4.4"/></g>
<path d="M639.15,-157.57 C638.57,-150.14 636.66,-126.47 635.69,-112.97 C634.72,-99.48 634.07,-87.68 633.32,-76.6 C632.56,-65.52 631.77,-55.56 631.16,-46.51 C630.54,-37.45 630.15,-29.8 629.64,-22.26 C629.14,-14.72 628.57,-7.3 628.13,-1.26 C627.69,4.79 627.37,9.03 627.01,14.01 C626.65,18.99 626.18,24.34 625.97,28.62 C625.76,32.9 625.86,36.16 625.76,39.66 C625.65,43.16 625.43,46.77 625.32,49.62 C625.22,52.47 625.22,54.56 625.11,56.77 C625,58.97 624.84,60.88 624.68,62.83 C624.51,64.77 624.3,66.72 624.13,68.44 C623.97,70.16 623.83,71.71 623.68,73.15 C623.52,74.6 623.4,75.9 623.21,77.11 C623.02,78.33 622.75,79.42 622.54,80.44 C622.34,81.46 622.16,82.38 621.99,83.23 C621.82,84.09 621.68,84.86 621.52,85.58 C621.36,86.3 621.22,86.95 621.04,87.55 C620.85,88.15 620.59,88.7 620.4,89.21 C620.2,89.71 620.03,90.17 619.86,90.6 C619.7,91.02 619.68,91.41 619.41,91.77 C619.14,92.12 618.6,92.45 618.23,92.75 C617.86,93.05 617.51,93.32 617.19,93.57 C616.87,93.82 616.72,94.05 616.31,94.26 C615.9,94.48 615.45,94.67 614.73,94.85 C614.01,95.02 612.83,95.18 611.99,95.33 C611.15,95.48 610.4,95.62 609.69,95.75 C608.98,95.87 608.35,95.98 607.75,96.09 C607.16,96.2 606.4,96.33 606.13,96.38" fill="none" stroke="#ff0000" stroke-width="1.0"/>
<g fill="#ff0000"><circle cx="639.15" cy="-157.57" r="2.8"/><circle cx="635.69" cy="-112.97" r="2.8"/><circle cx="633.32" cy="-76.6" r="2.8"/><circle cx="631.16" cy="-46.51" r="2.8"/><circle cx="629.64" cy="-22.26" r="2.8"/><circle cx="628.13" cy="-1.26" r="2.8"/><circle cx="627.01" cy="14.01" r="2.8"/><circle cx="625.97" cy="28.62" r="2.8"/><circle cx="625.76" cy="39.66" r="2.8"/><circle cx="625.32" cy="49.62" r="2.8"/><circle cx="625.11" cy="56.77" r="2.8"/><circle cx="624.68" cy="62.83" r="2.8"/><circle cx="624.13" cy="68.44" r="2.8"/><circle cx="623.68" cy="73.15" r="2.8"/><circle cx="623.21" cy="77.11" r="2.8"/><circle cx="622.54" cy="80.44" r="2.8"/><circle cx="621.99" cy="83.23" r="2.8"/><circle cx="621.52" cy="85.58" r="2.8"/><circle cx="621.04" cy="87.55" r="2.8"/><circle cx="620.4" cy="89.21" r="2.8"/><circle cx="619.86" cy="90.6" r="2.8"/><circle cx="619.41" cy="91.77" r="2.8"/><circle cx="618.23" cy="92.75" r="2.8"/><circle cx="617.19" cy="93.57" r="2.8"/><circle cx="616.31" cy="94.26" r="2.8"/><circle cx="614.73" cy="94.85" r="2.8"/><circle cx="611.99" cy="95.33" r="2.8"/><circle cx="609.69" cy="95.75" r="2.8"/><circle cx="607.75" cy="96.09" r="2.8"/><circle cx="606.13" cy="96.38" r="2.8"/></g>
<path d="M654.66,-40.23 C654.34,-36.69 653.29,-26.05 652.76,-19.01 C652.22,-11.97 651.86,-4.18 651.46,1.99 C651.06,8.16 650.78,13.25 650.38,18.01 C649.98,22.77 649.42,26.71 649.08,30.57 C648.75,34.43 648.59,37.97 648.37,41.18 C648.16,44.39 647.99,47.24 647.79,49.84 C647.58,52.43 647.39,54.49 647.14,56.77 C646.89,59.04 646.64,61.38 646.28,63.48 C645.92,65.57 645.41,67.45 644.98,69.32 C644.55,71.2 644.33,72.97 643.68,74.73 C643.04,76.5 642.12,78.47 641.09,79.93 C640.06,81.4 638.58,82.45 637.51,83.52 C636.43,84.6 635.86,85.54 634.64,86.4 C633.41,87.26 631.5,88.01 630.15,88.7 C628.8,89.39 627.62,89.99 626.54,90.54 C625.45,91.09 624.53,91.57 623.65,92.01 C622.76,92.45 622.27,92.84 621.22,93.19 C620.17,93.54 618.5,93.85 617.33,94.13 C616.17,94.41 615.16,94.66 614.23,94.89 C613.29,95.11 612.49,95.31 611.74,95.49 C610.99,95.67 610.35,95.83 609.75,95.97 C609.15,96.12 608.5,96.24 608.16,96.36 C607.82,96.47 607.76,96.61 607.68,96.67" fill="none" stroke="#00ee00" stroke-width="1.0"/>
<g fill="#00ff00"><use href="#star" transform="translate(654.66,-40.23) scale(0.68)"/><use href="#star" transform="translate(652.76,-19.01) scale(0.68)"/><use href="#star" transform="translate(651.46,1.99) scale(0.68)"/><use href="#star" transform="translate(650.38,18.01) scale(0.68)"/><use href="#star" transform="translate(649.08,30.57) scale(0.68)"/><use href="#star" transform="translate(648.37,41.18) scale(0.68)"/><use href="#star" transform="translate(647.79,49.84) scale(0.68)"/><use href="#star" transform="translate(647.14,56.77) scale(0.68)"/><use href="#star" transform="translate(646.28,63.48) scale(0.68)"/><use href="#star" transform="translate(644.98,69.32) scale(0.68)"/><use href="#star" transform="translate(643.68,74.73) scale(0.68)"/><use href="#star" transform="translate(641.09,79.93) scale(0.68)"/><use href="#star" transform="translate(637.51,83.52) scale(0.68)"/><use href="#star" transform="translate(634.64,86.4) scale(0.68)"/><use href="#star" transform="translate(630.15,88.7) scale(0.68)"/><use href="#star" transform="translate(626.54,90.54) scale(0.68)"/><use href="#star" transform="translate(623.65,92.01) scale(0.68)"/><use href="#star" transform="translate(621.22,93.19) scale(0.68)"/><use href="#star" transform="translate(617.33,94.13) scale(0.68)"/><use href="#star" transform="translate(614.23,94.89) scale(0.68)"/><use href="#star" transform="translate(611.74,95.49) scale(0.68)"/><use href="#star" transform="translate(609.75,95.97) scale(0.68)"/><use href="#star" transform="translate(608.16,96.36) scale(0.68)"/><use href="#star" transform="translate(607.68,96.67) scale(0.68)"/></g>
<g fill="none" stroke="#0000ff" stroke-width="1.5"><circle cx="614.74" cy="97.68" r="2.3"/><circle cx="615.77" cy="95.72" r="2.3"/><circle cx="616.8" cy="93.76" r="2.3"/><circle cx="618.32" cy="92.15" r="2.3"/><circle cx="619.88" cy="90.58" r="2.3"/><circle cx="621.45" cy="89.01" r="2.3"/><circle cx="623.37" cy="87.9" r="2.3"/><circle cx="625.28" cy="86.78" r="2.3"/><circle cx="627.19" cy="85.66" r="2.3"/><circle cx="629.1" cy="84.54" r="2.3"/><circle cx="631.26" cy="84.06" r="2.3"/><circle cx="633.43" cy="83.61" r="2.3"/><circle cx="635.6" cy="83.17" r="2.3"/><circle cx="637.77" cy="82.73" r="2.3"/><circle cx="639.94" cy="82.32" r="2.3"/><circle cx="642.15" cy="82.5" r="2.3"/><circle cx="644.35" cy="82.68" r="2.3"/><circle cx="646.56" cy="82.87" r="2.3"/><circle cx="648.77" cy="83.05" r="2.3"/><circle cx="650.93" cy="83.4" r="2.3"/><circle cx="652.98" cy="84.24" r="2.3"/><circle cx="655.04" cy="85.07" r="2.3"/><circle cx="657.09" cy="85.9" r="2.3"/><circle cx="659.04" cy="86.92" r="2.3"/><circle cx="660.83" cy="88.23" r="2.3"/><circle cx="662.61" cy="89.54" r="2.3"/><circle cx="664.4" cy="90.85" r="2.3"/><circle cx="666.25" cy="92.07" r="2.3"/><circle cx="668.13" cy="93.24" r="2.3"/><circle cx="670.01" cy="94.42" r="2.3"/><circle cx="672.19" cy="94.1" r="2.3"/><circle cx="674.27" cy="93.58" r="2.3"/><circle cx="675.47" cy="91.72" r="2.3"/><circle cx="676.67" cy="89.85" r="2.3"/><circle cx="677.86" cy="87.98" r="2.3"/><circle cx="678.67" cy="85.92" r="2.3"/><circle cx="679.41" cy="83.83" r="2.3"/><circle cx="680.16" cy="81.74" r="2.3"/><circle cx="680.9" cy="79.65" r="2.3"/><circle cx="681.59" cy="77.54" r="2.3"/><circle cx="682.21" cy="75.41" r="2.3"/><circle cx="682.83" cy="73.28" r="2.3"/><circle cx="683.45" cy="71.15" r="2.3"/><circle cx="683.89" cy="68.99" r="2.3"/><circle cx="683.96" cy="66.77" r="2.3"/><circle cx="684.03" cy="64.55" r="2.3"/><circle cx="684.11" cy="62.34" r="2.3"/><circle cx="684.18" cy="60.12" r="2.3"/><circle cx="684.25" cy="57.9" r="2.3"/><circle cx="684.33" cy="55.68" r="2.3"/><circle cx="684.4" cy="53.46" r="2.3"/><circle cx="684.48" cy="51.25" r="2.3"/><circle cx="684.55" cy="49.03" r="2.3"/><circle cx="684.62" cy="46.81" r="2.3"/><circle cx="684.7" cy="44.59" r="2.3"/><circle cx="684.73" cy="42.37" r="2.3"/><circle cx="684.75" cy="40.15" r="2.3"/><circle cx="684.76" cy="37.93" r="2.3"/><circle cx="684.78" cy="35.71" r="2.3"/><circle cx="684.79" cy="33.49" r="2.3"/><circle cx="684.81" cy="31.27" r="2.3"/><circle cx="684.82" cy="29.06" r="2.3"/><circle cx="684.84" cy="26.84" r="2.3"/><circle cx="684.85" cy="24.62" r="2.3"/><circle cx="684.87" cy="22.4" r="2.3"/><circle cx="684.88" cy="20.18" r="2.3"/><circle cx="684.9" cy="17.96" r="2.3"/><circle cx="684.91" cy="15.74" r="2.3"/><circle cx="684.93" cy="13.52" r="2.3"/><circle cx="684.94" cy="11.3" r="2.3"/></g>
</g>
<line x1="618.6" y1="59.3" x2="670.46" y2="82.23" stroke="#ff00ff" stroke-width="1.3" stroke-dasharray="4,3"/>
<path d="M676.5,84.9 L665.15,83.38 L669.96,82.01 L667.73,77.53 Z" fill="#ff00ff"/>
<rect x="595.3" y="11.3" width="86.4" height="86.6" fill="none" stroke="#222" stroke-width="1.1"/>
<line x1="527" y1="163.5" x2="530" y2="163.5" stroke="#222" stroke-width="1.1" />
<text x="526" y="169.1" font-size="15.5" text-anchor="end" fill="#000" >0</text>
<line x1="530" y1="163.5" x2="530" y2="166.5" stroke="#222" stroke-width="1.1" />
<text x="530" y="181.5" font-size="15.5" text-anchor="middle" fill="#000" >0</text>
<line x1="527" y1="94.5" x2="530" y2="94.5" stroke="#222" stroke-width="1.1" />
<text x="526" y="100.1" font-size="15.5" text-anchor="end" fill="#000" >10</text>
<line x1="598.7" y1="163.5" x2="598.7" y2="166.5" stroke="#222" stroke-width="1.1" />
<text x="598.7" y="181.5" font-size="15.5" text-anchor="middle" fill="#000" >10</text>
<line x1="527" y1="25.5" x2="530" y2="25.5" stroke="#222" stroke-width="1.1" />
<text x="526" y="31.1" font-size="15.5" text-anchor="end" fill="#000" >20</text>
<line x1="667.4" y1="163.5" x2="667.4" y2="166.5" stroke="#222" stroke-width="1.1" />
<text x="667.4" y="181.5" font-size="15.5" text-anchor="middle" fill="#000" >20</text>
<line x1="528.2" y1="129" x2="530" y2="129" stroke="#222" stroke-width="1" />
<line x1="564.35" y1="163.5" x2="564.35" y2="165.3" stroke="#222" stroke-width="1" />
<line x1="528.2" y1="60" x2="530" y2="60" stroke="#222" stroke-width="1" />
<line x1="633.05" y1="163.5" x2="633.05" y2="165.3" stroke="#222" stroke-width="1" />
<line x1="592.3" y1="97.9" x2="595.3" y2="97.9" stroke="#222" stroke-width="1.1" />
<text x="591.3" y="103.5" font-size="15.5" text-anchor="end" fill="#000" >0</text>
<line x1="595.3" y1="97.9" x2="595.3" y2="100.9" stroke="#222" stroke-width="1.1" />
<text x="595.3" y="114.5" font-size="15.5" text-anchor="middle" fill="#000" >0</text>
<line x1="592.3" y1="54.6" x2="595.3" y2="54.6" stroke="#222" stroke-width="1.1" />
<text x="591.3" y="60.2" font-size="15.5" text-anchor="end" fill="#000" >2</text>
<line x1="638.5" y1="97.9" x2="638.5" y2="100.9" stroke="#222" stroke-width="1.1" />
<text x="638.5" y="114.5" font-size="15.5" text-anchor="middle" fill="#000" >2</text>
<line x1="592.3" y1="11.3" x2="595.3" y2="11.3" stroke="#222" stroke-width="1.1" />
<text x="591.3" y="16.9" font-size="15.5" text-anchor="end" fill="#000" >4</text>
<line x1="681.7" y1="97.9" x2="681.7" y2="100.9" stroke="#222" stroke-width="1.1" />
<text x="681.7" y="114.5" font-size="15.5" text-anchor="middle" fill="#000" >4</text>
<line x1="593.5" y1="76.25" x2="595.3" y2="76.25" stroke="#222" stroke-width="1" />
<line x1="616.9" y1="97.9" x2="616.9" y2="99.7" stroke="#222" stroke-width="1" />
<line x1="593.5" y1="32.95" x2="595.3" y2="32.95" stroke="#222" stroke-width="1" />
<line x1="660.1" y1="97.9" x2="660.1" y2="99.7" stroke="#222" stroke-width="1" />
<text x="586.3" y="200.4" font-size="15.5" text-anchor="start" fill="#000" >Z' (Ω)</text>
<text transform="translate(499,87.7) rotate(-90)" font-size="15.5" text-anchor="middle">−Z&#39;&#39; (Ω)</text>
<text x="531.5" y="25" font-size="15.5" text-anchor="start" fill="#000" >(c)</text>
<text x="564.6" y="148.5" font-size="12.0" text-anchor="start" fill="#0000ff" >PPH-43.2</text>
<polyline points="68.86,365.9 81.13,365.9 105.66,365.9 154.71,365.6 203.77,365.6 252.82,365.9 301.88,365.9 399.99,366 498.1,366.2 596.22,366 669.8,366" fill="none" stroke="#000" stroke-width="1.9"/>
<polyline points="81.13,345.8 105.66,345.8 154.71,345.8 203.77,345.8 252.82,346.4 301.88,346.4 350.94,346.9 449.05,347.7 547.16,347.7 669.8,348.2" fill="none" stroke="#ff0000" stroke-width="1.9"/>
<polyline points="81.13,319.2 105.66,318.8 154.71,318.1 203.77,318.1 252.82,318.1 301.88,318.8 350.94,318.5 424.52,318.8 498.1,320.6 547.16,321.3 669.8,323.3" fill="none" stroke="#00ee00" stroke-width="1.9"/>
<polyline points="81.13,269.6 105.66,269.6 154.71,269 203.77,269.6 252.82,269.6 301.88,269 350.94,269.6 424.52,270 498.1,272.4 547.16,274.6 669.8,277.7" fill="none" stroke="#0000ff" stroke-width="1.9"/>
<g fill="#000"><rect x="64.21" y="361.25" width="9.3" height="9.3"/><rect x="76.48" y="361.25" width="9.3" height="9.3"/><rect x="101.01" y="361.25" width="9.3" height="9.3"/><rect x="150.06" y="360.95" width="9.3" height="9.3"/><rect x="199.12" y="360.95" width="9.3" height="9.3"/><rect x="248.17" y="361.25" width="9.3" height="9.3"/><rect x="297.23" y="361.25" width="9.3" height="9.3"/><rect x="395.34" y="361.35" width="9.3" height="9.3"/><rect x="493.45" y="361.55" width="9.3" height="9.3"/><rect x="591.57" y="361.35" width="9.3" height="9.3"/><rect x="665.15" y="361.35" width="9.3" height="9.3"/></g>
<g fill="#ff0000"><circle cx="81.13" cy="345.8" r="5.65"/><circle cx="105.66" cy="345.8" r="5.65"/><circle cx="154.71" cy="345.8" r="5.65"/><circle cx="203.77" cy="345.8" r="5.65"/><circle cx="252.82" cy="346.4" r="5.65"/><circle cx="301.88" cy="346.4" r="5.65"/><circle cx="350.94" cy="346.9" r="5.65"/><circle cx="449.05" cy="347.7" r="5.65"/><circle cx="547.16" cy="347.7" r="5.65"/><circle cx="669.8" cy="348.2" r="5.65"/></g>
<g fill="#00ff00"><use href="#star" transform="translate(81.13,319.2) scale(1.27)"/><use href="#star" transform="translate(105.66,318.8) scale(1.27)"/><use href="#star" transform="translate(154.71,318.1) scale(1.27)"/><use href="#star" transform="translate(203.77,318.1) scale(1.27)"/><use href="#star" transform="translate(252.82,318.1) scale(1.27)"/><use href="#star" transform="translate(301.88,318.8) scale(1.27)"/><use href="#star" transform="translate(350.94,318.5) scale(1.27)"/><use href="#star" transform="translate(424.52,318.8) scale(1.27)"/><use href="#star" transform="translate(498.1,320.6) scale(1.27)"/><use href="#star" transform="translate(547.16,321.3) scale(1.27)"/><use href="#star" transform="translate(669.8,323.3) scale(1.27)"/></g>
<g fill="url(#sph)"><circle cx="81.13" cy="269.6" r="5.6"/><circle cx="105.66" cy="269.6" r="5.6"/><circle cx="154.71" cy="269" r="5.6"/><circle cx="203.77" cy="269.6" r="5.6"/><circle cx="252.82" cy="269.6" r="5.6"/><circle cx="301.88" cy="269" r="5.6"/><circle cx="350.94" cy="269.6" r="5.6"/><circle cx="424.52" cy="270" r="5.6"/><circle cx="498.1" cy="272.4" r="5.6"/><circle cx="547.16" cy="274.6" r="5.6"/><circle cx="669.8" cy="277.7" r="5.6"/></g>
<line x1="497.3" y1="362" x2="497.3" y2="282.8" stroke="#ff00ff" stroke-width="1.3" stroke-dasharray="4,3"/>
<path d="M497.3,276.5 L499.9,287 L497.3,283.32 L494.7,287 Z" fill="#ff00ff"/>
<rect x="56.6" y="230.5" width="625.2" height="152.6" fill="none" stroke="#222" stroke-width="1.1"/>
<line x1="53.6" y1="383.1" x2="56.6" y2="383.1" stroke="#222" stroke-width="1.1" />
<text x="52.6" y="388.7" font-size="15.5" text-anchor="end" fill="#000" >0</text>
<line x1="53.6" y1="348.3" x2="56.6" y2="348.3" stroke="#222" stroke-width="1.1" />
<text x="52.6" y="353.9" font-size="15.5" text-anchor="end" fill="#000" >5</text>
<line x1="53.6" y1="313.5" x2="56.6" y2="313.5" stroke="#222" stroke-width="1.1" />
<text x="52.6" y="319.1" font-size="15.5" text-anchor="end" fill="#000" >10</text>
<line x1="53.6" y1="278.7" x2="56.6" y2="278.7" stroke="#222" stroke-width="1.1" />
<text x="52.6" y="284.3" font-size="15.5" text-anchor="end" fill="#000" >15</text>
<line x1="53.6" y1="243.9" x2="56.6" y2="243.9" stroke="#222" stroke-width="1.1" />
<text x="52.6" y="249.5" font-size="15.5" text-anchor="end" fill="#000" >20</text>
<line x1="54.8" y1="365.7" x2="56.6" y2="365.7" stroke="#222" stroke-width="1" />
<line x1="54.8" y1="330.9" x2="56.6" y2="330.9" stroke="#222" stroke-width="1" />
<line x1="54.8" y1="296.1" x2="56.6" y2="296.1" stroke="#222" stroke-width="1" />
<line x1="54.8" y1="261.3" x2="56.6" y2="261.3" stroke="#222" stroke-width="1" />
<line x1="56.6" y1="383.1" x2="56.6" y2="386.1" stroke="#222" stroke-width="1.1" />
<text x="56.6" y="401.4" font-size="15.5" text-anchor="middle" fill="#000" >0</text>
<line x1="179.24" y1="383.1" x2="179.24" y2="386.1" stroke="#222" stroke-width="1.1" />
<text x="179.24" y="401.4" font-size="15.5" text-anchor="middle" fill="#000" >100</text>
<line x1="301.88" y1="383.1" x2="301.88" y2="386.1" stroke="#222" stroke-width="1.1" />
<text x="301.88" y="401.4" font-size="15.5" text-anchor="middle" fill="#000" >200</text>
<line x1="424.52" y1="383.1" x2="424.52" y2="386.1" stroke="#222" stroke-width="1.1" />
<text x="424.52" y="401.4" font-size="15.5" text-anchor="middle" fill="#000" >300</text>
<line x1="547.16" y1="383.1" x2="547.16" y2="386.1" stroke="#222" stroke-width="1.1" />
<text x="547.16" y="401.4" font-size="15.5" text-anchor="middle" fill="#000" >400</text>
<line x1="669.8" y1="383.1" x2="669.8" y2="386.1" stroke="#222" stroke-width="1.1" />
<text x="669.8" y="401.4" font-size="15.5" text-anchor="middle" fill="#000" >500</text>
<line x1="117.92" y1="383.1" x2="117.92" y2="384.9" stroke="#222" stroke-width="1" />
<line x1="240.56" y1="383.1" x2="240.56" y2="384.9" stroke="#222" stroke-width="1" />
<line x1="363.2" y1="383.1" x2="363.2" y2="384.9" stroke="#222" stroke-width="1" />
<line x1="485.84" y1="383.1" x2="485.84" y2="384.9" stroke="#222" stroke-width="1" />
<line x1="608.48" y1="383.1" x2="608.48" y2="384.9" stroke="#222" stroke-width="1" />
<text x="280" y="421.1" font-size="15.5">Current density (mA cm<tspan font-size="10.5" dy="-6">−2</tspan><tspan dy="6">)</tspan></text>
<text transform="translate(25,307) rotate(-90)" font-size="15.5" text-anchor="middle">Areal capacitance (F cm<tspan font-size="10.5" dy="-6">−2</tspan><tspan dy="6">)</tspan></text>
<text x="57.7" y="246.4" font-size="15.5" text-anchor="start" fill="#000" >(d)</text>
<text x="525" y="261.7" font-size="12.0" text-anchor="start" fill="#0000ff" >PPH-43.2</text>
<defs><linearGradient id="gG" x1="0" x2="1" y1="0" y2="0"><stop offset="0" stop-color="#00c800"/><stop offset="0.1" stop-color="#00ff00"/><stop offset="0.42" stop-color="#00ff00"/><stop offset="0.65" stop-color="#007000"/><stop offset="0.86" stop-color="#001000"/><stop offset="1" stop-color="#001000"/></linearGradient><linearGradient id="tG" x1="0" x2="0" y1="0" y2="1"><stop offset="0" stop-color="#004800"/><stop offset="0.6" stop-color="#00c000"/><stop offset="1" stop-color="#00c000"/></linearGradient><linearGradient id="gM" x1="0" x2="1" y1="0" y2="0"><stop offset="0" stop-color="#d000d0"/><stop offset="0.1" stop-color="#ff00ff"/><stop offset="0.44" stop-color="#ff00ff"/><stop offset="0.67" stop-color="#700070"/><stop offset="0.87" stop-color="#180018"/><stop offset="1" stop-color="#180018"/></linearGradient><linearGradient id="tM" x1="0" x2="0" y1="0" y2="1"><stop offset="0" stop-color="#480048"/><stop offset="0.6" stop-color="#c000c0"/><stop offset="1" stop-color="#c000c0"/></linearGradient><linearGradient id="gR" x1="0" x2="1" y1="0" y2="0"><stop offset="0" stop-color="#d00000"/><stop offset="0.1" stop-color="#ff0000"/><stop offset="0.5" stop-color="#ff0000"/><stop offset="0.72" stop-color="#700000"/><stop offset="0.9" stop-color="#180000"/><stop offset="1" stop-color="#180000"/></linearGradient><linearGradient id="tR" x1="0" x2="0" y1="0" y2="1"><stop offset="0" stop-color="#480000"/><stop offset="0.6" stop-color="#c00000"/><stop offset="1" stop-color="#c00000"/></linearGradient></defs>
<polyline points="90.63,626.17 81.55,457.34" stroke="#a8a8a8" stroke-width="0.8" stroke-dasharray="1.6,1.6" fill="none"/>
<polyline points="116.18,616.85 109.58,453.73" stroke="#a8a8a8" stroke-width="0.8" stroke-dasharray="1.6,1.6" fill="none"/>
<polyline points="139.99,608.17 135.54,450.39" stroke="#a8a8a8" stroke-width="0.8" stroke-dasharray="1.6,1.6" fill="none"/>
<polyline points="162.21,600.06 159.64,447.29" stroke="#a8a8a8" stroke-width="0.8" stroke-dasharray="1.6,1.6" fill="none"/>
<polyline points="183.02,592.48 182.08,444.4" stroke="#a8a8a8" stroke-width="0.8" stroke-dasharray="1.6,1.6" fill="none"/>
<polyline points="59.61,584.71 186.22,547.44 313.14,583.61" stroke="#a8a8a8" stroke-width="0.8" stroke-dasharray="1.6,1.6" fill="none"/>
<polyline points="55.91,530.43 186.01,501.66 316.33,529.53" stroke="#a8a8a8" stroke-width="0.8" stroke-dasharray="1.6,1.6" fill="none"/>
<polyline points="52,473.1 185.79,453.77 319.7,472.42" stroke="#a8a8a8" stroke-width="0.8" stroke-dasharray="1.6,1.6" fill="none"/>
<polyline points="208.38,446.73 207.47,598.67 83.61,646.93" stroke="#a8a8a8" stroke-width="0.8" stroke-dasharray="1.6,1.6" fill="none"/>
<polyline points="232.67,449.74 229.94,606.61 105.79,658.54" stroke="#a8a8a8" stroke-width="0.8" stroke-dasharray="1.6,1.6" fill="none"/>
<polyline points="258.81,452.98 253.98,615.1 129.87,671.15" stroke="#a8a8a8" stroke-width="0.8" stroke-dasharray="1.6,1.6" fill="none"/>
<polyline points="287.01,456.48 279.78,624.21 156.11,684.89" stroke="#a8a8a8" stroke-width="0.8" stroke-dasharray="1.6,1.6" fill="none"/>
<polyline points="317.53,460.26 307.52,634 184.8,699.92" stroke="#a8a8a8" stroke-width="0.8" stroke-dasharray="1.6,1.6" fill="none"/>
<polyline points="90.63,626.17 215.7,686.08" stroke="#a8a8a8" stroke-width="0.8" stroke-dasharray="1.6,1.6" fill="none"/>
<polyline points="116.18,616.85 241.44,672.13" stroke="#a8a8a8" stroke-width="0.8" stroke-dasharray="1.6,1.6" fill="none"/>
<polyline points="139.99,608.17 265.06,659.34" stroke="#a8a8a8" stroke-width="0.8" stroke-dasharray="1.6,1.6" fill="none"/>
<polyline points="162.21,600.06 286.79,647.56" stroke="#a8a8a8" stroke-width="0.8" stroke-dasharray="1.6,1.6" fill="none"/>
<polyline points="183.02,592.48 306.86,636.69" stroke="#a8a8a8" stroke-width="0.8" stroke-dasharray="1.6,1.6" fill="none"/>
<polyline points="63.12,636.2 186.42,591.24 310.12,634.92" fill="none" stroke="#111" stroke-width="1.1"/>
<polyline points="51.19,461.25 185.75,443.93 320.4,460.61" fill="none" stroke="#111" stroke-width="1.1"/>
<line x1="186.42" y1="591.24" x2="185.75" y2="443.93" stroke="#777" stroke-width="1.1"/>
<line x1="310.12" y1="634.92" x2="320.4" y2="460.61" stroke="#111" stroke-width="1.1"/>
<path d="M212.47,576.5 L212.15,608 A3.35,1.16 0 0 0 218.85,608 L219.17,576.5 Z" fill="url(#gM)"/>
<ellipse cx="215.82" cy="576.5" rx="3.35" ry="0.96" fill="url(#tM)"/>
<path d="M132.22,628.9 L132.35,633 A3.65,1.39 0 0 0 139.65,633 L139.52,628.9 Z" fill="url(#gM)"/>
<ellipse cx="135.87" cy="628.9" rx="3.65" ry="1.29" fill="url(#tM)"/>
<path d="M124.72,625.4 L125.15,637.8 A3.85,1.49 0 0 0 132.85,637.8 L132.42,625.4 Z" fill="url(#gM)"/>
<ellipse cx="128.57" cy="625.4" rx="3.85" ry="1.34" fill="url(#tM)"/>
<path d="M280.23,474.3 L273.2,640 A4.6,1.79 0 0 0 282.4,640 L289.43,474.3 Z" fill="url(#gR)"/>
<ellipse cx="284.83" cy="474.3" rx="4.6" ry="0.67" fill="url(#tR)"/>
<path d="M224.29,583.5 L223.3,643.7 A4.1,1.63 0 0 0 231.5,643.7 L232.49,583.5 Z" fill="url(#gM)"/>
<ellipse cx="228.39" cy="583.5" rx="4.1" ry="1.21" fill="url(#tM)"/>
<path d="M173.61,617.9 L173.9,650 A4.1,1.67 0 0 0 182.1,650 L181.81,617.9 Z" fill="url(#gM)"/>
<ellipse cx="177.71" cy="617.9" rx="4.1" ry="1.4" fill="url(#tM)"/>
<path d="M146.66,640.9 L147.05,658 A4.45,1.86 0 0 0 155.95,658 L155.56,640.9 Z" fill="url(#gG)"/>
<ellipse cx="151.11" cy="640.9" rx="4.45" ry="1.65" fill="url(#tG)"/>
<path d="M146.78,650.2 L147.05,661.8 A4.45,1.88 0 0 0 155.95,661.8 L155.68,650.2 Z" fill="url(#gG)"/>
<ellipse cx="151.23" cy="650.2" rx="4.45" ry="1.71" fill="url(#tG)"/>
<path d="M194.84,650.3 L194.8,675 A4.2,1.86 0 0 0 203.2,675 L203.24,650.3 Z" fill="url(#gM)"/>
<ellipse cx="199.04" cy="650.3" rx="4.2" ry="1.61" fill="url(#tM)"/>
<path d="M186.46,659.9 L186.5,676.4 A4,1.78 0 0 0 194.5,676.4 L194.46,659.9 Z" fill="url(#gG)"/>
<ellipse cx="190.46" cy="659.9" rx="4" ry="1.59" fill="url(#tG)"/>
<path d="M172.12,639.8 L172.5,679.7 A4.8,2.15 0 0 0 182.1,679.7 L181.72,639.8 Z" fill="url(#gG)"/>
<ellipse cx="176.92" cy="639.8" rx="4.8" ry="1.78" fill="url(#tG)"/>
<path d="M159.55,669.4 L159.8,685.2 A5.2,2.37 0 0 0 170.2,685.2 L169.95,669.4 Z" fill="url(#gG)"/>
<ellipse cx="164.75" cy="669.4" rx="5.2" ry="2.13" fill="url(#tG)"/>
<path d="M207.38,604.3 L206.7,685.4 A4.8,2.19 0 0 0 216.3,685.4 L216.98,604.3 Z" fill="url(#gM)"/>
<ellipse cx="212.18" cy="604.3" rx="4.8" ry="1.55" fill="url(#tM)"/>
<path d="M197.07,619.6 L196.85,688.1 A4.85,2.23 0 0 0 206.55,688.1 L206.77,619.6 Z" fill="url(#gG)"/>
<ellipse cx="201.92" cy="619.6" rx="4.85" ry="1.66" fill="url(#tG)"/>
<path d="M182.1,614.8 L182.45,695.5 A4.85,2.29 0 0 0 192.15,695.5 L191.8,614.8 Z" fill="url(#gG)"/>
<ellipse cx="186.95" cy="614.8" rx="4.85" ry="1.63" fill="url(#tG)"/>
<polyline points="51.19,461.25 63.12,636.2 187.52,701.35 310.12,634.92" fill="none" stroke="#111" stroke-width="1.1"/>
<line x1="60.12" y1="636.2" x2="63.12" y2="636.2" stroke="#111" stroke-width="1" />
<line x1="56.61" y1="584.71" x2="59.61" y2="584.71" stroke="#111" stroke-width="1" />
<line x1="52.91" y1="530.43" x2="55.91" y2="530.43" stroke="#111" stroke-width="1" />
<line x1="49" y1="473.1" x2="52" y2="473.1" stroke="#111" stroke-width="1" />
<line x1="59.59" y1="610.79" x2="61.39" y2="610.79" stroke="#111" stroke-width="1" />
<line x1="55.98" y1="557.94" x2="57.78" y2="557.94" stroke="#111" stroke-width="1" />
<line x1="52.18" y1="502.16" x2="53.98" y2="502.16" stroke="#111" stroke-width="1" />
<line x1="63.12" y1="636.2" x2="58.67" y2="637.82" stroke="#111" stroke-width="1" />
<line x1="83.61" y1="646.93" x2="79.11" y2="648.68" stroke="#111" stroke-width="1" />
<line x1="105.79" y1="658.54" x2="101.24" y2="660.45" stroke="#111" stroke-width="1" />
<line x1="129.87" y1="671.15" x2="125.29" y2="673.22" stroke="#111" stroke-width="1" />
<line x1="156.11" y1="684.89" x2="151.5" y2="687.16" stroke="#111" stroke-width="1" />
<line x1="184.8" y1="699.92" x2="180.19" y2="702.4" stroke="#111" stroke-width="1" />
<line x1="73.17" y1="641.46" x2="70.64" y2="642.41" stroke="#111" stroke-width="1" />
<line x1="94.48" y1="652.62" x2="91.92" y2="653.65" stroke="#111" stroke-width="1" />
<line x1="117.58" y1="664.72" x2="115" y2="665.84" stroke="#111" stroke-width="1" />
<line x1="142.7" y1="677.87" x2="140.1" y2="679.1" stroke="#111" stroke-width="1" />
<line x1="170.13" y1="692.24" x2="167.52" y2="693.57" stroke="#111" stroke-width="1" />
<line x1="187.52" y1="701.35" x2="191.4" y2="703.38" stroke="#111" stroke-width="1" />
<line x1="215.7" y1="686.08" x2="219.56" y2="687.93" stroke="#111" stroke-width="1" />
<line x1="241.44" y1="672.13" x2="245.28" y2="673.82" stroke="#111" stroke-width="1" />
<line x1="265.06" y1="659.34" x2="268.86" y2="660.89" stroke="#111" stroke-width="1" />
<line x1="286.79" y1="647.56" x2="290.55" y2="649" stroke="#111" stroke-width="1" />
<line x1="306.86" y1="636.69" x2="310.57" y2="638.01" stroke="#111" stroke-width="1" />
<line x1="201.93" y1="693.54" x2="204.1" y2="694.62" stroke="#111" stroke-width="1" />
<line x1="228.86" y1="678.95" x2="231.01" y2="679.94" stroke="#111" stroke-width="1" />
<line x1="253.5" y1="665.6" x2="255.64" y2="666.5" stroke="#111" stroke-width="1" />
<line x1="276.14" y1="653.33" x2="278.26" y2="654.16" stroke="#111" stroke-width="1" />
<line x1="297.02" y1="642.02" x2="299.11" y2="642.79" stroke="#111" stroke-width="1" />
<text x="58.4" y="455" font-size="15.5" text-anchor="start" fill="#000" >(e)</text>
<text transform="translate(40.6,638.3) rotate(-94)" font-size="14.2">Area capacitance (F cm<tspan font-size="10" dy="-5.5">−2</tspan><tspan dy="5.5">)</tspan></text>
<text x="47.5" y="479.4" font-size="14.5" text-anchor="end" fill="#000" >15</text>
<text x="52" y="537.7" font-size="14.5" text-anchor="end" fill="#000" >10</text>
<text x="54.3" y="592" font-size="14.5" text-anchor="end" fill="#000" >5</text>
<text x="59.5" y="644" font-size="14.5" text-anchor="end" fill="#000" >0</text>
<text transform="translate(54.5,641.5) rotate(0) skewX(-30) scale(1.05,0.45)" font-size="14.5" text-anchor="middle">0</text>
<text transform="translate(73.63,653.85) skewX(-30) scale(1.1,0.49)" font-size="14.5" text-anchor="middle">20</text>
<text transform="translate(95.86,665.85) skewX(-26) scale(1.12,0.53)" font-size="14.5" text-anchor="middle">40</text>
<text transform="translate(120.19,679.75) skewX(-20) scale(1.16,0.59)" font-size="14.5" text-anchor="middle">60</text>
<text transform="translate(146.53,694.2) skewX(-16) scale(1.16,0.65)" font-size="14.5" text-anchor="middle">80</text>
<text transform="translate(176.1,710) skewX(-14) scale(1.08,0.69)" font-size="14.5" text-anchor="middle">100</text>
<text transform="translate(198.2,714.3) rotate(-8) skewX(-8) scale(1.08,0.5)" font-size="14.5" text-anchor="middle">0</text>
<text transform="translate(227.2,698.3) rotate(-8) skewX(-8) scale(1.08,0.5)" font-size="14.5" text-anchor="middle">10</text>
<text transform="translate(251.8,683.6) rotate(-8) skewX(-8) scale(1.08,0.5)" font-size="14.5" text-anchor="middle">20</text>
<text transform="translate(275.3,669.4) rotate(-8) skewX(-8) scale(1.08,0.5)" font-size="14.5" text-anchor="middle">30</text>
<text transform="translate(297.2,657.4) rotate(-8) skewX(-8) scale(1.08,0.5)" font-size="14.5" text-anchor="middle">40</text>
<text transform="translate(318,646.4) rotate(-8) skewX(-8) scale(1.08,0.5)" font-size="14.5" text-anchor="middle">50</text>
<text transform="translate(52.5,664.8) rotate(30.5)" font-size="13.8">Rate capability (%)</text>
<text transform="translate(206,724.6) rotate(-28.2)" font-size="13.7">Mass loading (mg cm<tspan font-size="9.8" dy="-5.5">−2</tspan><tspan dy="5.5">)</tspan></text>
<text x="241" y="472.4" font-size="17" text-anchor="start" fill="#ff0000" >This work</text>
<polyline points="436.57,627.97 429.63,461.78" stroke="#a8a8a8" stroke-width="0.8" stroke-dasharray="1.6,1.6" fill="none"/>
<polyline points="461.56,619.37 456.75,458.37" stroke="#a8a8a8" stroke-width="0.8" stroke-dasharray="1.6,1.6" fill="none"/>
<polyline points="484.98,611.32 482.04,455.2" stroke="#a8a8a8" stroke-width="0.8" stroke-dasharray="1.6,1.6" fill="none"/>
<polyline points="506.95,603.77 505.67,452.23" stroke="#a8a8a8" stroke-width="0.8" stroke-dasharray="1.6,1.6" fill="none"/>
<polyline points="527.62,596.66 527.79,449.46" stroke="#a8a8a8" stroke-width="0.8" stroke-dasharray="1.6,1.6" fill="none"/>
<polyline points="407.05,586.34 531.14,551.76 655.38,586.62" stroke="#a8a8a8" stroke-width="0.8" stroke-dasharray="1.6,1.6" fill="none"/>
<polyline points="404.14,533.01 531.26,506.21 658.59,533.39" stroke="#a8a8a8" stroke-width="0.8" stroke-dasharray="1.6,1.6" fill="none"/>
<polyline points="401.08,476.99 531.39,458.74 661.96,477.48" stroke="#a8a8a8" stroke-width="0.8" stroke-dasharray="1.6,1.6" fill="none"/>
<polyline points="553.08,451.8 551.24,602.47 429.55,646.91" stroke="#a8a8a8" stroke-width="0.8" stroke-dasharray="1.6,1.6" fill="none"/>
<polyline points="576.16,454.78 572.71,609.88 450.72,657.39" stroke="#a8a8a8" stroke-width="0.8" stroke-dasharray="1.6,1.6" fill="none"/>
<polyline points="600.82,457.97 595.54,617.76 473.5,668.65" stroke="#a8a8a8" stroke-width="0.8" stroke-dasharray="1.6,1.6" fill="none"/>
<polyline points="627.22,461.38 619.86,626.15 498.09,680.81" stroke="#a8a8a8" stroke-width="0.8" stroke-dasharray="1.6,1.6" fill="none"/>
<polyline points="655.54,465.04 645.83,635.11 524.7,693.98" stroke="#a8a8a8" stroke-width="0.8" stroke-dasharray="1.6,1.6" fill="none"/>
<polyline points="436.57,627.97 558.78,683.73" stroke="#a8a8a8" stroke-width="0.8" stroke-dasharray="1.6,1.6" fill="none"/>
<polyline points="461.56,619.37 584,671.22" stroke="#a8a8a8" stroke-width="0.8" stroke-dasharray="1.6,1.6" fill="none"/>
<polyline points="484.98,611.32 607.32,659.66" stroke="#a8a8a8" stroke-width="0.8" stroke-dasharray="1.6,1.6" fill="none"/>
<polyline points="506.95,603.77 628.94,648.94" stroke="#a8a8a8" stroke-width="0.8" stroke-dasharray="1.6,1.6" fill="none"/>
<polyline points="527.62,596.66 649.05,638.97" stroke="#a8a8a8" stroke-width="0.8" stroke-dasharray="1.6,1.6" fill="none"/>
<polyline points="409.83,637.16 531.02,595.5 652.33,637.35" fill="none" stroke="#111" stroke-width="1.1"/>
<polyline points="400.45,465.44 531.42,449 662.65,465.96" fill="none" stroke="#111" stroke-width="1.1"/>
<line x1="531.02" y1="595.5" x2="531.42" y2="449" stroke="#444" stroke-width="1.1"/>
<line x1="652.33" y1="637.35" x2="662.65" y2="465.96" stroke="#111" stroke-width="1.1"/>
<path d="M529.65,572.1 L529.55,598.5 A3.55,1.11 0 0 0 536.65,598.5 L536.75,572.1 Z" fill="url(#gM)"/>
<ellipse cx="533.2" cy="572.1" rx="3.55" ry="0.93" fill="url(#tM)"/>
<path d="M490.39,561.5 L491.15,615 A3.85,1.29 0 0 0 498.85,615 L498.09,561.5 Z" fill="url(#gM)"/>
<ellipse cx="494.24" cy="561.5" rx="3.85" ry="0.96" fill="url(#tM)"/>
<path d="M470.87,599.3 L471.3,617.5 A3.6,1.22 0 0 0 478.5,617.5 L478.07,599.3 Z" fill="url(#gM)"/>
<ellipse cx="474.47" cy="599.3" rx="3.6" ry="1.07" fill="url(#tM)"/>
<path d="M470.24,626.8 L470.35,631.1 A2.95,1.05 0 0 0 476.25,631.1 L476.14,626.8 Z" fill="url(#gM)"/>
<ellipse cx="473.19" cy="626.8" rx="2.95" ry="0.98" fill="url(#tM)"/>
<path d="M432.06,621.2 L432.5,631.7 A3.2,1.14 0 0 0 438.9,631.7 L438.46,621.2 Z" fill="url(#gG)"/>
<ellipse cx="435.26" cy="621.2" rx="3.2" ry="1.03" fill="url(#tG)"/>
<path d="M437.05,616.3 L437.7,632.7 A3.9,1.39 0 0 0 445.5,632.7 L444.85,616.3 Z" fill="url(#gG)"/>
<ellipse cx="440.95" cy="616.3" rx="3.9" ry="1.23" fill="url(#tG)"/>
<path d="M425.2,599.6 L426.7,633 A3.7,1.32 0 0 0 434.1,633 L432.6,599.6 Z" fill="url(#gG)"/>
<ellipse cx="428.9" cy="599.6" rx="3.7" ry="1.09" fill="url(#tG)"/>
<path d="M460.64,622.1 L461,634.6 A3.9,1.41 0 0 0 468.8,634.6 L468.44,622.1 Z" fill="url(#gM)"/>
<ellipse cx="464.54" cy="622.1" rx="3.9" ry="1.27" fill="url(#tM)"/>
<path d="M412.68,570.5 L416,637.3 A4.1,1.48 0 0 0 424.2,637.3 L420.88,570.5 Z" fill="url(#gG)"/>
<ellipse cx="416.78" cy="570.5" rx="4.1" ry="1.06" fill="url(#tG)"/>
<path d="M499.89,611.2 L500.15,637.5 A3.85,1.41 0 0 0 507.85,637.5 L507.59,611.2 Z" fill="url(#gM)"/>
<ellipse cx="503.74" cy="611.2" rx="3.85" ry="1.2" fill="url(#tM)"/>
<path d="M451.32,624.9 L451.75,637.9 A3.85,1.4 0 0 0 459.45,637.9 L459.02,624.9 Z" fill="url(#gG)"/>
<ellipse cx="455.17" cy="624.9" rx="3.85" ry="1.26" fill="url(#tG)"/>
<path d="M420.91,627.4 L421.5,639.8 A3.9,1.42 0 0 0 429.3,639.8 L428.71,627.4 Z" fill="url(#gG)"/>
<ellipse cx="424.81" cy="627.4" rx="3.9" ry="1.28" fill="url(#tG)"/>
<path d="M474.47,622.4 L474.95,644.1 A4.05,1.51 0 0 0 483.05,644.1 L482.57,622.4 Z" fill="url(#gM)"/>
<ellipse cx="478.52" cy="622.4" rx="4.05" ry="1.32" fill="url(#tM)"/>
<path d="M632.25,480.3 L624.15,644.4 A4.85,1.8 0 0 0 633.85,644.4 L641.95,480.3 Z" fill="url(#gR)"/>
<ellipse cx="637.1" cy="480.3" rx="4.85" ry="0.71" fill="url(#tR)"/>
<path d="M507.44,605.4 L507.85,670.2 A4.25,1.74 0 0 0 516.35,670.2 L515.94,605.4 Z" fill="url(#gG)"/>
<ellipse cx="511.69" cy="605.4" rx="4.25" ry="1.3" fill="url(#tG)"/>
<path d="M549.33,602.3 L548.25,681.7 A5.05,2.15 0 0 0 558.35,681.7 L559.43,602.3 Z" fill="url(#gM)"/>
<ellipse cx="554.38" cy="602.3" rx="5.05" ry="1.52" fill="url(#tM)"/>
<polyline points="400.45,465.44 409.83,637.16 531.41,697.3 652.33,637.35" fill="none" stroke="#111" stroke-width="1.1"/>
<line x1="406.83" y1="637.16" x2="409.83" y2="637.16" stroke="#111" stroke-width="1" />
<line x1="404.05" y1="586.34" x2="407.05" y2="586.34" stroke="#111" stroke-width="1" />
<line x1="401.14" y1="533.01" x2="404.14" y2="533.01" stroke="#111" stroke-width="1" />
<line x1="398.08" y1="476.99" x2="401.08" y2="476.99" stroke="#111" stroke-width="1" />
<line x1="406.66" y1="612.05" x2="408.46" y2="612.05" stroke="#111" stroke-width="1" />
<line x1="403.81" y1="560" x2="405.61" y2="560" stroke="#111" stroke-width="1" />
<line x1="400.83" y1="505.35" x2="402.63" y2="505.35" stroke="#111" stroke-width="1" />
<line x1="409.83" y1="637.16" x2="405.51" y2="638.64" stroke="#111" stroke-width="1" />
<line x1="429.55" y1="646.91" x2="425.19" y2="648.51" stroke="#111" stroke-width="1" />
<line x1="450.72" y1="657.39" x2="446.33" y2="659.1" stroke="#111" stroke-width="1" />
<line x1="473.5" y1="668.65" x2="469.08" y2="670.5" stroke="#111" stroke-width="1" />
<line x1="498.09" y1="680.81" x2="493.64" y2="682.81" stroke="#111" stroke-width="1" />
<line x1="524.7" y1="693.98" x2="520.24" y2="696.14" stroke="#111" stroke-width="1" />
<line x1="419.52" y1="641.95" x2="417.07" y2="642.82" stroke="#111" stroke-width="1" />
<line x1="439.95" y1="652.06" x2="437.47" y2="652.99" stroke="#111" stroke-width="1" />
<line x1="461.9" y1="662.91" x2="459.41" y2="663.92" stroke="#111" stroke-width="1" />
<line x1="485.56" y1="674.62" x2="483.05" y2="675.7" stroke="#111" stroke-width="1" />
<line x1="511.12" y1="687.26" x2="508.61" y2="688.44" stroke="#111" stroke-width="1" />
<line x1="531.41" y1="697.3" x2="535.13" y2="699.14" stroke="#111" stroke-width="1" />
<line x1="558.78" y1="683.73" x2="562.49" y2="685.42" stroke="#111" stroke-width="1" />
<line x1="584" y1="671.22" x2="587.7" y2="672.79" stroke="#111" stroke-width="1" />
<line x1="607.32" y1="659.66" x2="610.99" y2="661.11" stroke="#111" stroke-width="1" />
<line x1="628.94" y1="648.94" x2="632.58" y2="650.29" stroke="#111" stroke-width="1" />
<line x1="649.05" y1="638.97" x2="652.65" y2="640.23" stroke="#111" stroke-width="1" />
<line x1="545.38" y1="690.37" x2="547.46" y2="691.36" stroke="#111" stroke-width="1" />
<line x1="571.64" y1="677.35" x2="573.71" y2="678.26" stroke="#111" stroke-width="1" />
<line x1="595.88" y1="665.33" x2="597.94" y2="666.17" stroke="#111" stroke-width="1" />
<line x1="618.33" y1="654.2" x2="620.37" y2="654.98" stroke="#111" stroke-width="1" />
<line x1="639.17" y1="643.87" x2="641.2" y2="644.6" stroke="#111" stroke-width="1" />
<text x="404.7" y="461" font-size="15.5" text-anchor="start" fill="#000" >(f)</text>
<text transform="translate(387.2,635.3) rotate(-93.5)" font-size="14.2">Area capacitance (F cm<tspan font-size="10" dy="-5.5">−2</tspan><tspan dy="5.5">)</tspan></text>
<text x="397" y="484.1" font-size="14.5" text-anchor="end" fill="#000" >15</text>
<text x="401.5" y="539.3" font-size="14.5" text-anchor="end" fill="#000" >10</text>
<text x="402.5" y="592.9" font-size="14.5" text-anchor="end" fill="#000" >5</text>
<text x="406" y="644" font-size="14.5" text-anchor="end" fill="#000" >0</text>
<text transform="translate(401,641.5) rotate(0) skewX(-30) scale(1.05,0.45)" font-size="14.5" text-anchor="middle">0</text>
<text transform="translate(419.54,654.35) skewX(-28) scale(0.97,0.49)" font-size="14.5" text-anchor="middle">100</text>
<text transform="translate(439.99,665.5) skewX(-25) scale(1.06,0.54)" font-size="14.5" text-anchor="middle">200</text>
<text transform="translate(463.43,677.7) skewX(-22) scale(1.06,0.56)" font-size="14.5" text-anchor="middle">300</text>
<text transform="translate(488.18,691.15) skewX(-18) scale(1.06,0.61)" font-size="14.5" text-anchor="middle">400</text>
<text transform="translate(515.66,704.7) skewX(-15) scale(1.11,0.67)" font-size="14.5" text-anchor="middle">500</text>
<text transform="translate(543.7,707.1) rotate(-8) skewX(-8) scale(1.08,0.5)" font-size="14.5" text-anchor="middle">0</text>
<text transform="translate(571.1,693) rotate(-8) skewX(-8) scale(1.08,0.5)" font-size="14.5" text-anchor="middle">10</text>
<text transform="translate(594.7,679.8) rotate(-8) skewX(-8) scale(1.08,0.5)" font-size="14.5" text-anchor="middle">20</text>
<text transform="translate(618.2,667.8) rotate(-8) skewX(-8) scale(1.08,0.5)" font-size="14.5" text-anchor="middle">30</text>
<text transform="translate(640.1,656.9) rotate(-8) skewX(-8) scale(1.08,0.5)" font-size="14.5" text-anchor="middle">40</text>
<text transform="translate(660.3,647) rotate(-8) skewX(-8) scale(1.08,0.5)" font-size="14.5" text-anchor="middle">50</text>
<text transform="translate(379.5,652.8) rotate(29.5)" font-size="13.3">Current density (mA cm<tspan font-size="9.8" dy="-5.5">−2</tspan><tspan dy="5.5">)</tspan></text>
<text transform="translate(549,723) rotate(-25.3)" font-size="13.3">Mass loading (mg cm<tspan font-size="9.8" dy="-5.5">−2</tspan><tspan dy="5.5">)</tspan></text>
<text x="589" y="478.5" font-size="17" text-anchor="start" fill="#ff0000" >This work</text>
<defs><linearGradient id="lM" x1="0" x2="1"><stop offset="0" stop-color="#380038"/><stop offset="0.3" stop-color="#e800e8"/><stop offset="0.55" stop-color="#ff00ff"/><stop offset="0.8" stop-color="#c000c0"/><stop offset="1" stop-color="#380038"/></linearGradient><linearGradient id="lG" x1="0" x2="1"><stop offset="0" stop-color="#003800"/><stop offset="0.3" stop-color="#00e800"/><stop offset="0.55" stop-color="#00ff00"/><stop offset="0.8" stop-color="#00b000"/><stop offset="1" stop-color="#003800"/></linearGradient></defs>
<rect x="317" y="685.1" width="11" height="9" fill="url(#lM)"/>
<rect x="317" y="709.3" width="11" height="9.2" fill="url(#lG)"/>
<text transform="translate(332.6,694) scale(1.22,1)" font-size="13">&lt;</text>
<text x="343.6" y="694" font-size="13">10 mg cm<tspan font-size="9.2" dy="-5.5">−2</tspan></text>
<text x="333" y="718" font-size="13">≥ 10 mg cm<tspan font-size="9.2" dy="-5.5">−2</tspan></text>
</svg></body></html>
